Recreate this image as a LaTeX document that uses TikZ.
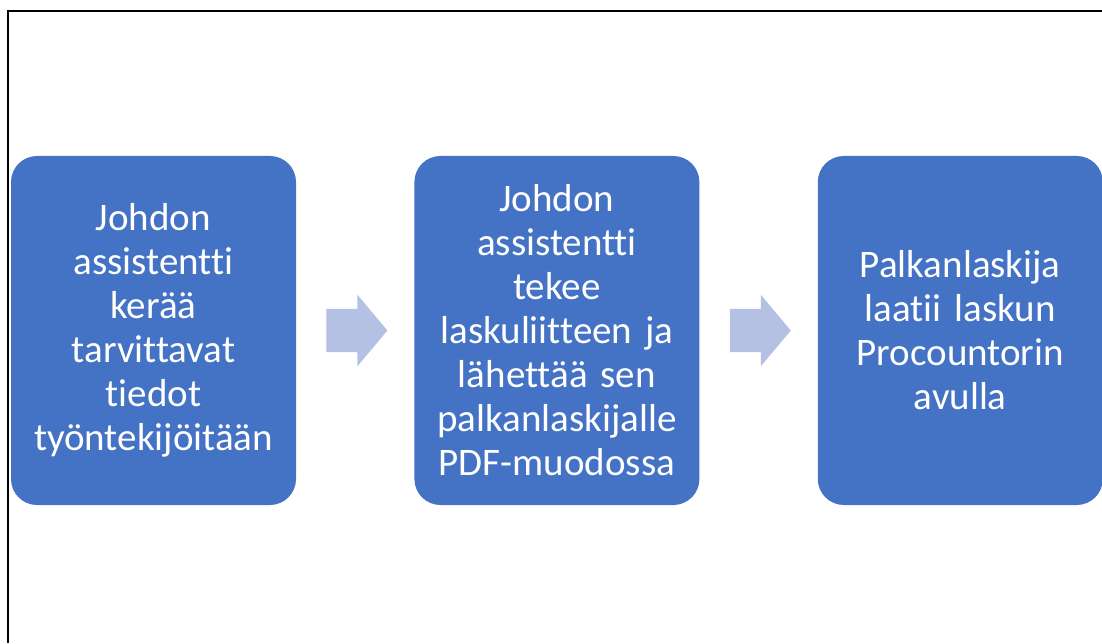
\documentclass[tikz,border=0pt]{standalone}
\usepackage{fontspec}
\setmainfont[Ligatures={NoCommon}]{Carlito}
\usetikzlibrary{positioning,shapes.arrows}

\definecolor{stepblue}{HTML}{4472C4}
\definecolor{arrowblue}{HTML}{B4C1E3}

\begin{document}
\begin{tikzpicture}[
x=1pt, y=1pt,
stepbox/.style={
	rectangle, rounded corners=26pt,
	fill=stepblue, draw=none,
	minimum width=285pt, minimum height=349pt,
	text width=270pt, align=center,
	text=white, font=\fontsize{39}{44}\selectfont
},
flowarrow/.style={
	single arrow, fill=arrowblue, draw=none,
	minimum height=61pt,
	inner xsep=0pt, inner ysep=21.5pt,
	single arrow head extend=14pt, single arrow tip angle=100
},
node distance=118pt
]
\useasboundingbox (0,0) rectangle (1102,643);
% frame
\draw[line width=1.6pt] (1102,632) -- (8,632) -- (8,0);
\node[stepbox] (kerays) at (153.5,312.5) {Johdon\\assistentti\\kerää\\tarvittavat\\tiedot\\työntekijöitään};
\node[stepbox, right=of kerays] (liite) {Johdon\\assistentti\\tekee\\laskuliitteen ja\\lähettää sen\\palkanlaskijalle\\PDF-muodossa};
\node[stepbox, right=of liite] (lasku) {Palkanlaskija\\laatii laskun\\Procountorin\\avulla};
\node[flowarrow, right=30pt of kerays] (a1) {};
\node[flowarrow, right=30pt of liite] (a2) {};
\end{tikzpicture}
\end{document}
